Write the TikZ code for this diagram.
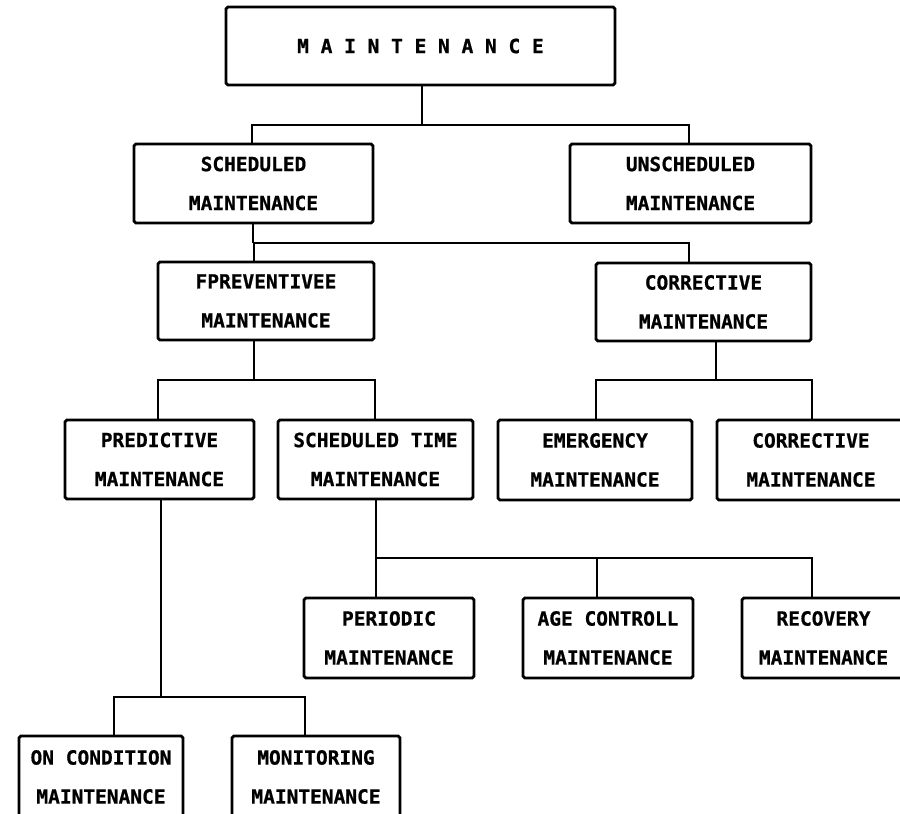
\documentclass[tikz,border=0pt]{standalone}
\usepackage{fontspec}
\usepackage{tikz}
\newfontfamily\plotter{DejaVu Sans Mono}[FakeBold=0.8]

\begin{document}
\begin{tikzpicture}
    [x = 0.02cm, y = -0.02cm, line width = 1.4pt,
     every node/.style = {draw, line width = 1.6pt, rounded corners = 1pt, inner sep = 0pt,
       align = center, font = \plotter\bfseries\fontsize{11.1}{22.2}\selectfont}]
    \useasboundingbox (0,0) rectangle (900,814);
    % boxes, top to bottom
    \node[minimum width = 7.78cm, minimum height = 1.56cm] (main) at (420.5,46) {M A I N T E N A N C E};
    \node[minimum width = 4.78cm, minimum height = 1.58cm] (sched) at (253.5,183.5) {SCHEDULED\\MAINTENANCE};
    \node[minimum width = 4.82cm, minimum height = 1.58cm] (unsched) at (690.5,183.5) {UNSCHEDULED\\MAINTENANCE};
    \node[minimum width = 4.32cm, minimum height = 1.56cm] (prev) at (266,301) {FPREVENTIVEE\\MAINTENANCE};
    \node[minimum width = 4.30cm, minimum height = 1.56cm] (corr) at (703.5,302) {CORRECTIVE\\MAINTENANCE};
    \node[minimum width = 3.78cm, minimum height = 1.58cm] (pred) at (159.5,459.5) {PREDICTIVE\\MAINTENANCE};
    \node[minimum width = 3.90cm, minimum height = 1.58cm] (stime) at (375.5,459.5) {SCHEDULED TIME\\MAINTENANCE};
    \node[minimum width = 3.88cm, minimum height = 1.60cm] (emerg) at (595,460) {EMERGENCY\\MAINTENANCE};
    \node[minimum width = 3.76cm, minimum height = 1.60cm] (corr2) at (811,460) {CORRECTIVE\\MAINTENANCE};
    \node[minimum width = 3.40cm, minimum height = 1.60cm] (period) at (389,638) {PERIODIC\\MAINTENANCE};
    \node[minimum width = 3.40cm, minimum height = 1.60cm] (age) at (608,638) {AGE CONTROLL\\MAINTENANCE};
    \node[minimum width = 3.26cm, minimum height = 1.60cm] (recov) at (823.5,638) {RECOVERY\\MAINTENANCE};
    \node[minimum width = 3.28cm, minimum height = 1.64cm] (oncond) at (101,777) {ON CONDITION\\MAINTENANCE};
    \node[minimum width = 3.36cm, minimum height = 1.64cm] (monit) at (316,777) {MONITORING\\MAINTENANCE};
    % branching points
    \coordinate (bA) at (422,125);
    \coordinate (bB) at (253,243);
    \coordinate (bC) at (254,380);
    \coordinate (bD) at (716,380);
    \coordinate (bE) at (376,558);
    \coordinate (bF) at (161,697);
    \foreach \up/\bus in {main/bA, sched/bB, prev/bC, corr/bD, stime/bE, pred/bF}
      \draw (\up.south -| \bus) -- (\bus);
    \foreach \bus/\kid/\x in {bA/sched/252, bA/unsched/689, bB/prev/254, bB/corr/689,
        bC/pred/158, bC/stime/375, bD/emerg/596, bD/corr2/812, bE/period/376,
        bE/age/597, bE/recov/812, bF/oncond/114, bF/monit/305}
      \draw (\bus) -| (\x,0 |- \kid.north);
\end{tikzpicture}
\end{document}
